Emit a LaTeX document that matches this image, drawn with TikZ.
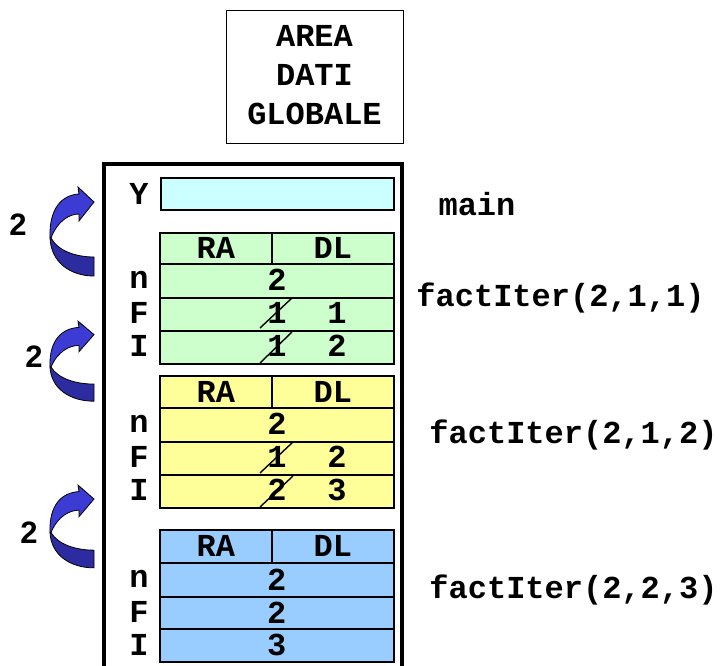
\documentclass[tikz,border=0pt]{standalone}
\usepackage{fontspec}
\setmonofont{Liberation Mono}
\newfontfamily\lsans{Liberation Sans}
\definecolor{cyanbox}{HTML}{CCFFFF}
\definecolor{greenbox}{HTML}{CCFFCC}
\definecolor{yellowbox}{HTML}{FFFF99}
\definecolor{bluebox}{HTML}{99CCFF}
\definecolor{arrlight}{RGB}{60,60,212}
\definecolor{arrdark}{RGB}{44,44,160}
\begin{document}
\begin{tikzpicture}[x=1pt,y=-1pt,
  txt/.style={font=\ttfamily\bfseries\fontsize{32}{38}\selectfont, inner sep=0pt},
  cell/.style={draw, line width=1.6pt, inner sep=0pt, anchor=north west},
  lbl/.style={font=\lsans\bfseries\fontsize{31}{34}\selectfont, inner sep=0pt},
  slash/.style={line width=1.4pt},
  frameline/.style={line width=4pt},
  curvarr/.pic={
    \fill[arrlight, draw=black, line width=0.8pt]
      (0,50) .. controls (-1,20) and (12,7) .. (29,6) -- (28,-1) -- (44,14)
      -- (29,33) -- (29,26) .. controls (20,26) and (8,32) .. (1,50) -- cycle;
    \fill[arrdark, draw=black, line width=0.8pt]
      (0,50) .. controls (1,74) and (20,88) .. (44,88) -- (44,69)
      .. controls (26,69) and (8,63) .. (1,50) -- cycle;
  }]
\useasboundingbox (0,0) rectangle (721,666);
\fill[white] (0,0) rectangle (721,666);

% global data area
\node[draw, line width=1.2pt, minimum width=177pt, minimum height=133pt, anchor=north west, inner sep=0pt] (glob) at (226,10) {};
\node[txt] (g1) at (314.5,36) {AREA};
\node[txt] (g2) at (314.5,75) {DATI};
\node[txt] (g3) at (314.5,114) {GLOBALE};

% stack frame
\draw[frameline] (104,670) -- (104,164) -- (402,164) -- (402,670);

% main
\node[cell, fill=cyanbox, minimum width=233pt, minimum height=32pt] (ybox) at (160,177) {};
\node[txt] (ylab) at (139,194) {Y};
\node[txt] (mainlab) at (477,204) {main};

% green frame
\node[cell, fill=greenbox, minimum width=112pt, minimum height=31pt] (gra) at (159,232) {};
\node[cell, fill=greenbox, minimum width=122pt, minimum height=31pt] (gdl) at (271,232) {};
\node[txt] at (gra.center) {RA};
\node[txt] at (gdl.center) {DL};
\node[cell, fill=greenbox, minimum width=234pt, minimum height=34pt] (gn) at (159,263) {};
\node[cell, fill=greenbox, minimum width=234pt, minimum height=33pt] (gF) at (159,297) {};
\node[cell, fill=greenbox, minimum width=234pt, minimum height=33pt] (gI) at (159,330) {};
\node[txt] (gnl) at (139,280) {n};
\node[txt] (gFl) at (139,313) {F};
\node[txt] (gIl) at (139,346) {I};
\node[txt] (gnv) at (277,280) {2};
\node[txt] (gFo) at (277,313) {1};
\node[txt] (gFv) at (337,313) {1};
\node[txt] (gIo) at (277,346) {1};
\node[txt] (gIv) at (337,346) {2};
\draw[slash] (260,328) -- (292,298);
\draw[slash] (260,363) -- (292,332);
\node[txt] (gcall) at (560.5,298) {factIter(2,1,1)};

% yellow frame
\node[cell, fill=yellowbox, minimum width=112pt, minimum height=32pt] (yra) at (159,375) {};
\node[cell, fill=yellowbox, minimum width=122pt, minimum height=32pt] (ydl) at (271,375) {};
\node[txt] at (yra.center) {RA};
\node[txt] at (ydl.center) {DL};
\node[cell, fill=yellowbox, minimum width=234pt, minimum height=34pt] (yn) at (159,407) {};
\node[cell, fill=yellowbox, minimum width=234pt, minimum height=33pt] (yF) at (159,441) {};
\node[cell, fill=yellowbox, minimum width=234pt, minimum height=33pt] (yI) at (159,474) {};
\node[txt] (ynl) at (139,424) {n};
\node[txt] (yFl) at (139,457) {F};
\node[txt] (yIl) at (139,490) {I};
\node[txt] (ynv) at (277,424) {2};
\node[txt] (yFo) at (277,457) {1};
\node[txt] (yFv) at (337,457) {2};
\node[txt] (yIo) at (277,490) {2};
\node[txt] (yIv) at (337,490) {3};
\draw[slash] (260,473) -- (293,442);
\draw[slash] (260,507) -- (293,476);
\node[txt] (ycall) at (573.5,435) {factIter(2,1,2)};

% blue frame
\node[cell, fill=bluebox, minimum width=112pt, minimum height=33pt] (bra) at (159,529) {};
\node[cell, fill=bluebox, minimum width=122pt, minimum height=33pt] (bdl) at (271,529) {};
\node[txt] at (bra.center) {RA};
\node[txt] at (bdl.center) {DL};
\node[cell, fill=bluebox, minimum width=234pt, minimum height=34pt] (bn) at (159,562) {};
\node[cell, fill=bluebox, minimum width=234pt, minimum height=32pt] (bF) at (159,596) {};
\node[cell, fill=bluebox, minimum width=234pt, minimum height=33pt] (bI) at (159,628) {};
\node[txt] (bnl) at (139,579) {n};
\node[txt] (bFl) at (139,612) {F};
\node[txt] (bIl) at (139,645) {I};
\node[txt] at (bn.center) {2};
\node[txt] at (bF.center) {2};
\node[txt] at (bI.center) {3};
\node[txt] (bcall) at (573.5,590) {factIter(2,2,3)};

% curved arrows
\path (50,188) pic {curvarr};
\path (50,322) pic[yscale=0.9] {curvarr};
\path (50,486) pic[yscale=0.93] {curvarr};
\node[lbl] (a1) at (18,225) {2};
\node[lbl] (a2) at (34,357) {2};
\node[lbl] (a3) at (29,533) {2};
\end{tikzpicture}
\end{document}
